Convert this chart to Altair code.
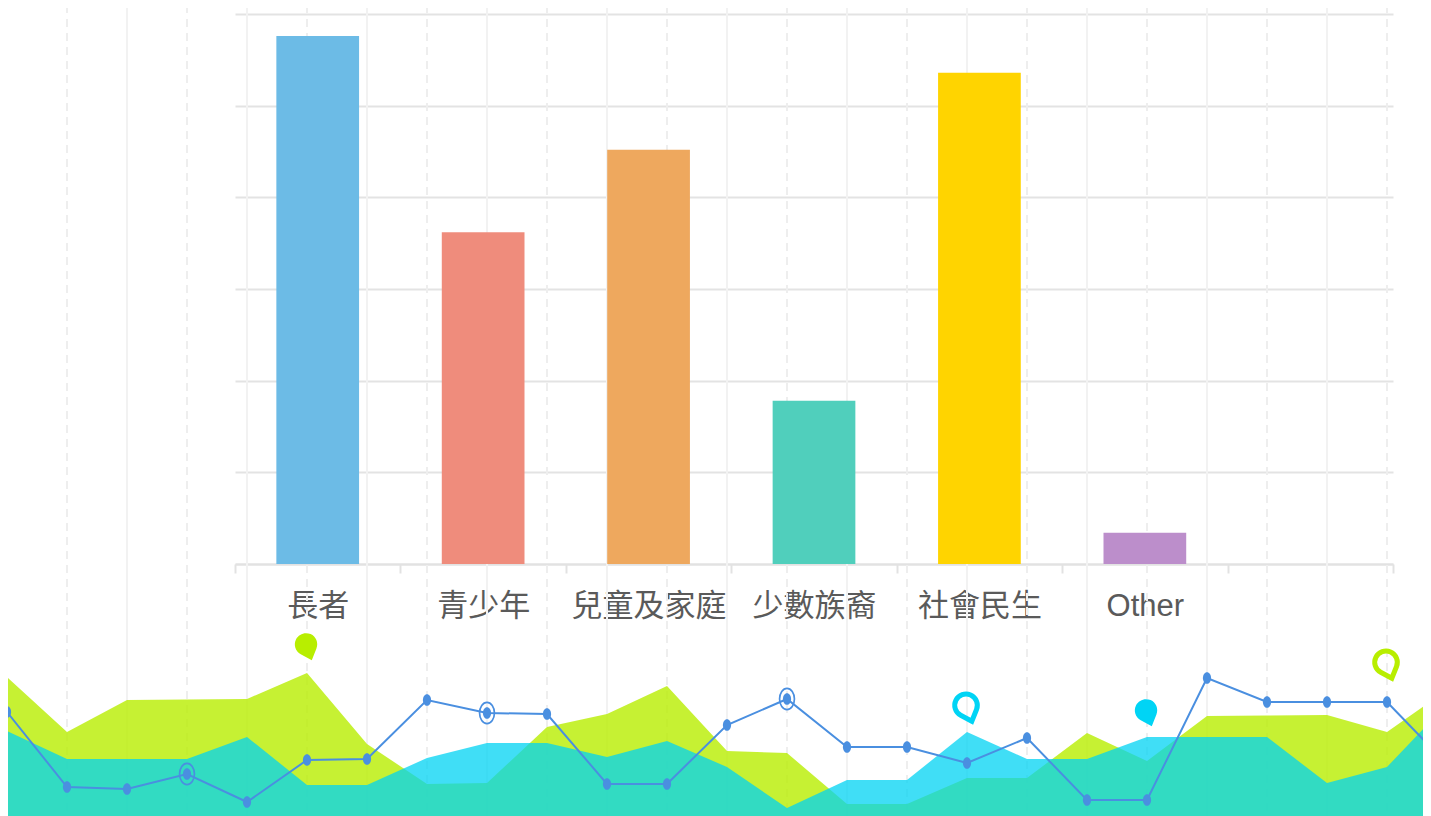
import altair as alt
import pandas as pd

# ---------------- bar chart data ----------------
categories = ["長者", "青少年", "兒童及家庭", "少數族裔", "社會民生", "Other"]
slots = categories + [" "]
values = [28.8, 18.1, 22.6, 8.9, 26.8, 1.7]
bar_colors = ["#6cbbe6", "#ef8c7c", "#eea85e", "#50cfbc", "#ffd400", "#bc8ecb"]
y_ticks = [0, 5, 10, 15, 20, 25, 30]

# ---------------- decorative background data ----------------
bg_k = list(range(25))
lime_top = [139, 84, 116, 116.5, 117, 143, 72, 32, 33, 89, 102, 130, 65,
            63, 12, 12, 38, 38, 83, 55, 100, 100.5, 101, 84, 126]
cyan_top = [85, 57, 57, 57, 79, 31, 31, 58, 73, 73, 59, 75, 49,
            8, 36, 36, 84, 57, 57, 79, 79, 79, 33, 49, 112]
blue_line = [104, 29, 27, 42, 14, 56, 57, 116, 103, 102, 32, 32, 91,
             117, 69, 69, 53, 78, 16, 16, 138, 114, 114, 114, 52]
ring_k = [3, 8, 13]
solid_k = [0, 2, 4, 6, 8, 10, 12, 14, 16, 18, 20, 22, 24]
dash_k = [1, 3, 5, 7, 9, 11, 13, 15, 17, 19, 21, 23]
pin_k = [5, 16, 19, 23]
pin_v = [169, 108, 103, 151]
pin_color = ["lime", "cyan", "cyan", "lime"]
pin_filled = ["yes", "no", "yes", "no"]

FONT = "'Liberation Sans', 'Noto Sans CJK TC', sans-serif"
BLUE = "#4a8fe0"
PIN = "M0,1L-0.596,0.333A0.8,0.8,0,1,1,0.596,0.333Z"
ELLIPSE = "M-0.7,0A0.7,1,0,1,0,0.7,0A0.7,1,0,1,0,-0.7,0Z"

bar_df = pd.DataFrame({"cat": categories, "value": values})
bg_df = pd.DataFrame({"k": bg_k, "lime": lime_top, "cyan": cyan_top, "blue": blue_line})
ring_df = bg_df[bg_df["k"].isin(ring_k)]
pin_df = pd.DataFrame({"k": pin_k, "v": pin_v, "c": pin_color, "f": pin_filled})

bgx = alt.Scale(domain=[0, 24], range=[-228, 1212], nice=False, zero=False)
bgy = alt.Scale(domain=[0, 808], range=[802, -6], nice=False)
pin_scale = alt.Scale(domain=["lime", "cyan"], range=["#b8ee00", "#00d4f5"])

solid_rules = alt.Chart(pd.DataFrame({"k": solid_k})).mark_rule(
    color="#f2f2f2", strokeWidth=2
).encode(
    x=alt.X("k:Q", scale=bgx, axis=None),
    y=alt.YDatum(816, scale=bgy, axis=None),
    y2=alt.Y2Datum(0),
)

dash_rules = alt.Chart(pd.DataFrame({"k": dash_k})).mark_rule(
    color="#eeeeee", strokeWidth=2, strokeDash=[8, 6]
).encode(
    x=alt.X("k:Q", scale=bgx, axis=None),
    y=alt.YDatum(811, scale=bgy, axis=None),
    y2=alt.Y2Datum(0),
)

lime_area = alt.Chart(bg_df).mark_area(color="#b8ee00", opacity=0.8).encode(
    x=alt.X("k:Q", scale=bgx, axis=None),
    y=alt.Y("lime:Q", scale=bgy, axis=None, stack=None),
)

cyan_area = alt.Chart(bg_df).mark_area(color="#00d3f3", opacity=0.75).encode(
    x=alt.X("k:Q", scale=bgx, axis=None),
    y=alt.Y("cyan:Q", scale=bgy, axis=None, stack=None),
)

blue_ln = alt.Chart(bg_df).mark_line(color=BLUE, strokeWidth=2).encode(
    x=alt.X("k:Q", scale=bgx, axis=None),
    y=alt.Y("blue:Q", scale=bgy, axis=None),
)

blue_pts = alt.Chart(bg_df).mark_point(
    shape=ELLIPSE, filled=True, color=BLUE, size=137, opacity=1, strokeWidth=0
).encode(
    x=alt.X("k:Q", scale=bgx, axis=None),
    y=alt.Y("blue:Q", scale=bgy, axis=None),
)

rings = alt.Chart(ring_df).mark_point(
    shape=ELLIPSE, filled=False, color=BLUE, size=450, strokeWidth=1.7, opacity=1
).encode(
    x=alt.X("k:Q", scale=bgx, axis=None),
    y=alt.Y("blue:Q", scale=bgy, axis=None),
)

pins_fill = alt.Chart(pin_df).transform_filter(alt.datum.f == "yes").mark_point(
    shape=PIN, filled=True, size=784, angle=340, opacity=1, strokeWidth=0
).encode(
    x=alt.X("k:Q", scale=bgx, axis=None),
    y=alt.Y("v:Q", scale=bgy, axis=None),
    color=alt.Color("c:N", scale=pin_scale, legend=None),
)

pins_out = alt.Chart(pin_df).transform_filter(alt.datum.f == "no").mark_point(
    shape=PIN, filled=False, size=800, angle=340, opacity=1, strokeWidth=5
).encode(
    x=alt.X("k:Q", scale=bgx, axis=None),
    y=alt.Y("v:Q", scale=bgy, axis=None),
    color=alt.Color("c:N", scale=pin_scale, legend=None),
)

bars = alt.Chart(bar_df).mark_bar(width=alt.RelativeBandSize(0.5)).encode(
    x=alt.X(
        "cat:N",
        sort=slots,
        scale=alt.Scale(domain=slots, paddingInner=0, paddingOuter=0),
        axis=alt.Axis(
            title=None, labelAngle=0, labelFontSize=31, labelColor="#5a5a5a",
            labelFont=FONT, labelPadding=18, domainColor="#e2e2e2", domainWidth=2,
            tickColor="#e2e2e2", tickWidth=2, tickSize=9, tickBand="extent", grid=False,
        ),
    ),
    y=alt.Y(
        "value:Q",
        scale=alt.Scale(domain=[0, 30], nice=False),
        axis=alt.Axis(
            title=None, labels=False, ticks=False, domain=False, grid=True,
            gridColor="#e3e3e3", gridWidth=2, values=y_ticks,
        ),
    ),
    color=alt.Color("cat:N", scale=alt.Scale(domain=categories, range=bar_colors), legend=None),
)

chart = alt.layer(
    solid_rules, dash_rules, lime_area, cyan_area, blue_ln, blue_pts, rings,
    pins_fill, pins_out, bars
).resolve_scale(
    x="independent", y="independent", color="independent"
).properties(
    width=1158,
    height=550,
    autosize=alt.AutoSizeParams(type="none"),
    padding={"left": 227, "top": 6, "right": 30, "bottom": 252},
    background="#ffffff",
).configure_view(stroke=None)

chart.save("out.html", embed_options={"renderer": "svg", "actions": False})
